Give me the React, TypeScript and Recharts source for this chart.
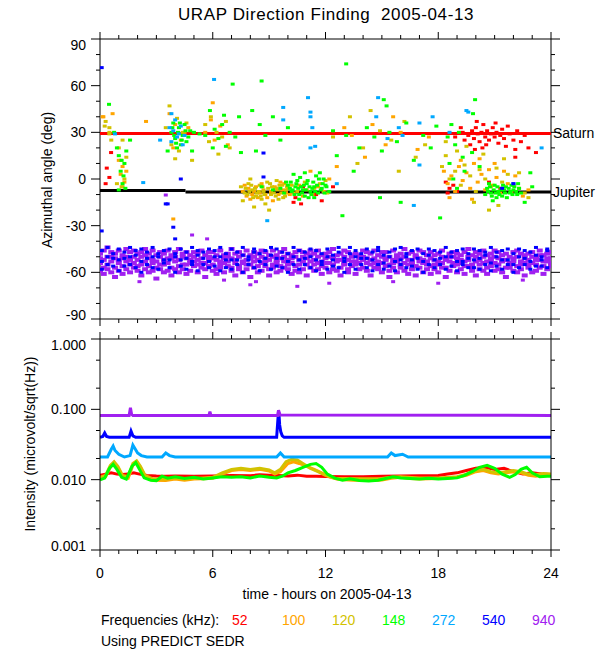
import React from "react";
import {
  ComposedChart,
  Line,
  ReferenceLine,
  Scatter,
  ScatterChart,
  XAxis,
  YAxis,
} from "recharts";

const FONT = '"Liberation Sans", Arial, Helvetica, sans-serif';

// axis ticks
const HOUR_TICKS = [0, 1, 2, 3, 4, 5, 6, 7, 8, 9, 10, 11, 12, 13, 14, 15, 16, 17, 18, 19, 20, 21, 22, 23, 24];
const HOUR_MAJOR = [0, 6, 12, 18, 24];
const ANGLE_TICKS = [-90, -80, -70, -60, -50, -40, -30, -20, -10, 0, 10, 20, 30, 40, 50, 60, 70, 80, 90];
const ANGLE_MAJOR = [-90, -60, -30, 0, 30, 60, 90];
const INT_TICKS = [0.001, 0.002, 0.005, 0.01, 0.02, 0.05, 0.1, 0.2, 0.5, 1];
const INT_MAJOR = [0.001, 0.01, 0.1, 1];

const FREQS = ["52", "100", "120", "148", "272", "540", "940"];
const COLORS = ["#ff0000", "#ffa500", "#d2c200", "#00ff00", "#00a8ff", "#0000ff", "#a020f0"];

// planet directions (deg)
const SATURN = 29.3;
const JUPITER = -8.3;
const JUPITER_EARLY = -7.4;
const JUPITER_STEP = 4.55;

// direction-finding points: [hour, azimuth]
const S52: [number, number][] = [
  [0.59, 17], [0.36, 7], [0.3, -3], [0.5, 1],
  [19.6, 28], [19.8, 31], [19.9, 26], [20.0, 33], [20.1, 29], [20.2, 24], [20.3, 30], [20.4, 35],
  [20.5, 27], [20.6, 31], [20.7, 25], [20.8, 29], [20.9, 33], [21.0, 27], [21.1, 30], [21.2, 23],
  [21.3, 28], [21.4, 32], [21.5, 26], [21.6, 21], [21.8, 29], [22.0, 25], [22.2, 31], [22.4, 24],
  [22.6, 28], [19.7, 22], [20.05, 37], [20.55, 22], [21.05, 36], [19.4, 25], [19.3, 30], [18.9, 27],
  [22.8, 20], [23.2, 17], [21.7, 34], [20.35, 20], [19.95, 19], [22.1, 19], [22.1, 14], [19.2, 33],
  [18.4, -2], [18.6, -6], [18.5, -9], [18.8, -4], [19.0, -8], [10.3, -15], [10.7, -16], [12.4, -5],
  [9.9, -8], [10.4, -12], [10.8, -5], [11.5, -10], [11.8, -14], [20.7, -2], [21.3, -6],
];
const S100: [number, number][] = [
  [0.14, 40], [0.67, 42], [2.45, 37], [0.18, 40], [1.2, 8], [1.1, 3], [1.3, -2], [1.0, 12], [1.15, -5], [1.4, 5],
  [3.7, 42], [4.0, 35], [4.3, 25], [4.5, 30], [3.9, 20], [4.7, 33], [3.9, -25.7],
  [5.6, 30], [6.0, 49], [6.1, 25], [6.4, 34], [6.8, 22], [5.9, 38],
  [7.6, -8], [7.9, -6], [8.1, -10], [8.3, -5], [8.5, -9], [8.7, -7], [8.9, -12], [9.1, -8], [9.3, -5],
  [9.5, -10], [9.7, -7], [9.9, -9], [8.0, -13], [8.6, -3], [9.2, -14], [9.6, -2], [7.8, -11], [8.4, -12],
  [7.7, -4], [8.2, -8], [8.8, -10], [9.4, -6], [9.8, -3], [10.1, -10],
  [10.0, -6], [10.3, -9], [10.6, -4], [11.0, -7], [11.3, -10], [11.6, -5], [11.9, -8], [10.8, -11],
  [11.2, 5], [12.2, 0], [13.4, 28], [14.5, 35], [15.2, 22], [16.0, 30], [16.9, 19], [17.5, 27],
  [13.0, 33], [15.6, 40], [12.6, 8], [14.1, 14],
  [18.3, 5], [18.5, -3], [18.7, 2], [18.9, -8], [19.1, 8], [19.3, -1], [19.5, 4], [19.7, -6], [19.9, 10],
  [20.1, -2], [20.3, 3], [20.5, -7], [20.7, 6], [20.9, -4], [21.1, 1], [21.3, -9], [21.5, 5], [21.7, -3],
  [21.9, -8], [22.1, 2], [22.3, -6], [22.5, -11], [19.2, 12], [20.2, 13], [21.0, 10], [18.6, -12],
  [19.8, -13], [22.8, -7],
];
const S120: [number, number][] = [
  [0.3, 37], [0.5, 30], [0.25, 34], [1.0, 20], [1.1, 12], [1.3, 0], [1.2, -5], [0.9, -3], [1.4, 14],
  [0.6, 25], [1.2, 25], [0.5, 33], [0.5, 29],
  [3.7, 47], [4.1, 39], [4.4, 30], [3.8, 22], [4.6, 36], [4.2, 18], [3.5, 33], [4.9, 12], [4.0, 13],
  [5.6, 35], [5.9, 40], [6.2, 30], [6.5, 27], [6.9, 20], [6.3, 16], [5.8, 24], [6.7, 37],
  [7.5, -5], [7.7, -9], [7.9, -3], [8.1, -7], [8.3, -11], [8.5, -4], [8.7, -8], [8.9, -2], [9.1, -10],
  [9.3, -6], [9.5, -13], [9.7, -4], [9.9, -7], [7.6, -14], [8.2, -18], [8.8, -16], [9.4, -1], [8.0, 0],
  [9.0, -20], [8.6, -13], [7.75, -6], [8.45, -8], [9.15, -5], [9.85, -11],
  [7.85, -10], [8.05, -4], [8.25, -6], [8.35, -9], [8.55, -11], [8.65, -5], [8.75, -10], [8.95, -6],
  [9.05, -3], [9.25, -9], [9.35, -11], [9.45, -7], [9.55, -4], [9.65, -9], [9.75, -12], [9.95, -5],
  [8.15, -12], [7.95, -8],
  [10.2, -4], [10.5, -8], [10.9, -2], [11.4, -6], [11.7, -3], [12.1, -9], [12.0, -1],
  [12.4, 27], [13.3, 40], [14.0, 20], [14.9, 31], [15.5, 25], [16.2, 37], [16.8, 14], [17.3, 22],
  [13.7, 10], [15.9, 5], [14.4, 44],
  [18.2, 8], [18.4, 15], [18.6, 0], [18.9, 5], [19.2, -4], [19.4, 9], [19.7, 2], [20.0, -8], [20.2, 6],
  [20.5, 0], [20.8, -5], [21.1, 7], [21.4, -2], [21.7, 3], [22.0, -4], [22.3, 4], [22.6, -9], [19.0, 18],
  [20.4, 16], [21.5, 13], [19.9, -15], [21.2, -17], [22.8, -12], [20.7, -20], [18.4, 24], [19.5, 21],
];
const S148: [number, number][] = [
  [0.48, 48], [1.0, 15], [1.1, 5], [1.2, -3], [1.3, 10], [1.0, -7], [1.25, 2], [1.4, 18], [0.9, 20],
  [1.15, 12], [1.35, -6], [0.75, 30], [1.6, 25],
  [3.8, 30], [4.0, 26], [4.2, 33], [4.4, 28], [4.6, 24], [4.8, 31], [4.1, 20], [4.5, 35], [3.9, 36],
  [4.3, 22], [4.7, 27], [5.0, 30], [3.6, 18], [4.9, 18],
  [3.95, 28], [4.15, 30], [4.35, 25], [4.55, 31], [4.25, 36], [4.05, 23], [3.85, 33],
  [5.6, 28], [5.85, 44], [6.1, 32], [6.3, 26], [6.5, 35], [6.7, 21], [6.9, 30], [6.0, 20], [7.2, 27],
  [7.5, 17], [5.3, 29], [6.6, 41], [7.06, 61], [8.6, 63],
  [7.4, 40], [8.1, 44], [8.5, 35], [8.8, 28], [9.2, 40], [9.6, 25], [10.0, 33], [8.3, 18],
  [9.6, -6], [9.8, -9], [10.0, -4], [10.2, -8], [10.4, -5], [10.6, -10], [10.8, -7], [11.0, -3],
  [11.2, -8], [11.4, -5], [11.6, -9], [11.8, -6], [12.0, -4], [10.5, -1], [11.1, -12], [11.9, 0],
  [12.2, -8], [9.9, -2], [10.9, -11], [11.5, 2], [8.6, -5], [9.2, -7], [10.1, -6], [10.7, -5], [11.3, -6],
  [10.15, -2], [10.25, -7], [10.35, -10], [10.45, -3], [10.55, -6], [10.65, 1], [10.75, -9], [10.85, -4],
  [10.95, -7], [11.05, -1], [11.15, -5], [11.25, -10], [11.35, -2], [11.45, -8], [11.55, -4], [11.65, 0],
  [11.75, -7], [11.85, -3], [11.95, -9], [12.05, -5], [10.3, 3], [10.9, 4], [11.4, -12], [11.7, 4], [10.6, -13],
  [12.9, -23.6], [13.1, 74], [15.25, 47], [15.1, 51], [12.4, 31], [13.1, 28], [13.8, 20], [14.2, 33],
  [14.6, 27], [15.0, 18], [15.4, 30], [15.8, 24], [16.3, 36], [16.7, 12], [17.2, 28], [17.6, 20],
  [17.9, 34], [13.5, 5], [14.9, -12], [16.0, -15], [12.6, 15],
  [18.1, -25], [19.96, 51], [19.85, 42], [18.5, 27], [18.7, 35], [18.9, 22], [19.1, 30], [19.3, 14],
  [18.6, 10], [18.8, 0], [19.0, -6], [20.6, -6], [20.8, -9], [21.0, -4], [21.2, -8], [21.4, -11],
  [21.6, -5], [21.8, -9], [22.0, -7], [22.2, -10], [20.7, -3], [21.1, -12], [21.5, -7], [21.9, -4],
  [22.3, -6], [20.9, -14], [22.6, -15], [23.0, -5], [22.9, 4], [19.4, 5], [19.8, 17], [20.2, 8],
  [20.65, -8], [20.75, -5], [20.85, -11], [20.95, -7], [21.05, -9], [21.15, -5], [21.25, -10], [21.35, -7],
  [21.45, -4], [21.55, -9], [21.65, -12], [21.75, -6], [21.85, -8], [21.95, -10], [22.05, -5], [22.15, -8],
  [22.25, -3], [20.5, -10], [22.4, -9],
];
const S272: [number, number][] = [
  [2.3, -2.3], [8.9, -26.8], [11.07, 52.3], [14.8, 52.3], [19.5, 44], [23.5, 20], [16.7, -17],
  [3.9, 31], [4.1, 27], [4.3, 34], [3.8, 24], [4.0, 38], [4.2, 29], [4.4, 22], [3.7, 33], [4.5, 28],
  [3.2, 25], [3.8, 42], [0.8, 29], [6.07, 64], [9.75, 46], [9.75, 38], [11.2, 43], [11.2, 40],
  [11.3, 33], [11.45, 21], [11.2, 20], [14.7, 40], [15.9, 33], [17.0, 36], [17.7, 40], [16.1, 28],
  [15.3, 26], [17.0, 9], [18.6, 30], [22.0, -3], [12.6, -3], [19.6, 43],
];
const S540: [number, number][] = [
  [0.09, 71.6], [0.09, -33.4], [3.5, -16], [3.9, -31], [4.0, -38.5], [4.3, 0], [8.7, 16.7],
  [8.7, 1.3], [10.9, -79], [22.0, -3], [21.4, -6], [3.6, -16],
];
const S940: [number, number][] = [
  [3.5, -10.3], [5.7, -38.5], [8.0, -68], [8.3, -66], [12.2, -67], [15.6, -66], [22.5, -65],
  [4.9, -36], [10.5, -69], [18.0, -67], [2.1, -66], [6.6, -65],
];

// the dense 540/940 kHz band: [hour, azimuths...]
const BAND940: number[][] = [
  [0.0, -48, -54, -59, -51], [0.2, -52, -46, -57, -61], [0.4, -50, -55, -44, -58], [0.6, -47, -53, -60, -50],
  [0.8, -51, -57, -48, -63], [1.0, -54, -46, -59, -52], [1.2, -49, -56, -51, -61], [1.4, -53, -45, -58, -50],
  [1.6, -47, -55, -60, -52], [1.8, -50, -57, -46, -54], [2.0, -52, -48, -59, -56], [2.2, -55, -47, -62, -50],
  [2.4, -49, -53, -58, -45], [2.6, -51, -56, -48, -60], [2.8, -46, -54, -52, -59], [3.0, -53, -49, -57, -64],
  [3.2, -50, -55, -47, -58], [3.4, -48, -52, -60, -55], [3.6, -54, -46, -51, -59], [3.8, -51, -57, -49, -62],
  [4.0, -47, -53, -58, -50], [4.2, -52, -56, -45, -60], [4.4, -50, -48, -55, -58], [4.6, -55, -51, -47, -61],
  [4.8, -49, -54, -59, -52], [5.0, -53, -47, -56, -50], [5.2, -48, -55, -60, -52], [5.4, -51, -57, -46, -54],
  [5.6, -54, -49, -58, -63], [5.8, -50, -52, -47, -56], [6.0, -47, -55, -59, -51], [6.2, -52, -58, -49, -61],
  [6.4, -55, -46, -53, -57], [6.6, -49, -51, -60, -54], [6.8, -53, -48, -56, -50], [7.0, -51, -57, -45, -59],
  [7.2, -48, -54, -62, -52], [7.4, -50, -56, -47, -58], [7.6, -54, -49, -53, -60], [7.8, -52, -46, -58, -55],
  [8.0, -49, -55, -51, -63], [8.2, -53, -47, -57, -50], [8.4, -56, -52, -48, -60], [8.6, -50, -54, -59, -46],
  [8.8, -47, -53, -56, -51], [9.0, -52, -58, -49, -62], [9.2, -55, -50, -46, -57], [9.4, -49, -54, -60, -52],
  [9.6, -51, -47, -56, -59], [9.8, -53, -57, -50, -45], [10.0, -48, -52, -58, -55], [10.2, -54, -49, -61, -51],
  [10.4, -50, -56, -47, -59], [10.6, -52, -46, -55, -60], [10.8, -47, -53, -58, -50], [11.0, -55, -51, -48, -62],
  [11.2, -49, -57, -53, -46], [11.4, -52, -48, -59, -55], [11.6, -50, -54, -46, -58], [11.8, -53, -56, -49, -61],
  [12.0, -48, -51, -57, -54], [12.2, -54, -47, -60, -50], [12.4, -51, -55, -45, -58], [12.6, -49, -53, -59, -52],
  [12.8, -52, -57, -48, -62], [13.0, -55, -50, -54, -46], [13.2, -47, -52, -58, -60], [13.4, -50, -56, -49, -53],
  [13.6, -53, -48, -61, -55], [13.8, -49, -54, -51, -58], [14.0, -52, -46, -57, -50], [14.2, -54, -51, -59, -47],
  [14.4, -48, -55, -52, -62], [14.6, -51, -57, -46, -54], [14.8, -53, -49, -58, -56], [15.0, -50, -54, -47, -60],
  [15.2, -47, -52, -56, -51], [15.4, -55, -50, -59, -63], [15.6, -52, -46, -54, -57], [15.8, -49, -53, -60, -51],
  [16.0, -51, -57, -48, -55], [16.2, -54, -50, -45, -59], [16.4, -48, -55, -52, -61], [16.6, -52, -47, -58, -54],
  [16.8, -50, -56, -49, -62], [17.0, -53, -51, -57, -46], [17.2, -47, -54, -60, -52], [17.4, -55, -49, -53, -58],
  [17.6, -51, -56, -47, -61], [17.8, -49, -52, -58, -55], [18.0, -53, -48, -55, -60], [18.2, -50, -54, -46, -57],
  [18.4, -52, -57, -51, -63], [18.6, -48, -53, -59, -50], [18.8, -54, -50, -56, -47], [19.0, -51, -55, -48, -60],
  [19.2, -49, -52, -58, -54], [19.4, -53, -47, -61, -56], [19.6, -50, -56, -52, -45], [19.8, -55, -49, -57, -59],
  [20.0, -47, -53, -50, -62], [20.2, -52, -58, -55, -48], [20.4, -50, -46, -54, -59], [20.6, -53, -57, -49, -61],
  [20.8, -48, -51, -56, -53], [21.0, -54, -50, -59, -46], [21.2, -51, -55, -47, -58], [21.4, -49, -53, -60, -52],
  [21.6, -52, -57, -48, -63], [21.8, -55, -50, -54, -57], [22.0, -47, -53, -59, -51], [22.2, -50, -56, -46, -60],
  [22.4, -53, -48, -55, -58], [22.6, -51, -54, -49, -62], [22.8, -48, -52, -57, -55], [23.0, -54, -47, -60, -50],
  [23.2, -50, -55, -52, -59], [23.4, -52, -49, -46, -57], [23.6, -49, -56, -53, -61], [23.8, -53, -51, -58, -48],
  [24.0, -51, -54, -47, -56],
];
const BAND540: number[][] = [
  [0.1, -46, -53, -58], [0.4, -50, -44, -55], [0.7, -48, -56, -51], [1.0, -45, -52, -59], [1.3, -51, -47, -56],
  [1.6, -44, -55, -50], [1.9, -49, -46, -57], [2.2, -53, -45, -60], [2.5, -47, -51, -55], [2.8, -44, -57, -50],
  [3.1, -50, -48, -58], [3.4, -46, -54, -52], [3.7, -52, -45, -57], [4.0, -48, -50, -60], [4.3, -45, -56, -52],
  [4.6, -51, -47, -58], [4.9, -44, -53, -55], [5.2, -49, -46, -59], [5.5, -47, -55, -51], [5.8, -53, -45, -57],
  [6.1, -46, -50, -56], [6.4, -50, -44, -59], [6.7, -48, -57, -52], [7.0, -45, -52, -58], [7.3, -52, -47, -55],
  [7.6, -44, -49, -60], [7.9, -50, -55, -52], [8.2, -47, -45, -57], [8.5, -53, -48, -59], [8.8, -46, -51, -55],
  [9.1, -49, -44, -58], [9.4, -45, -56, -51], [9.7, -51, -47, -57], [10.0, -48, -53, -60], [10.3, -44, -50, -55],
  [10.6, -52, -46, -58], [10.9, -47, -55, -51], [11.2, -50, -45, -57], [11.5, -46, -52, -59], [11.8, -53, -48, -55],
  [12.1, -45, -50, -58], [12.4, -49, -56, -52], [12.7, -47, -44, -57], [13.0, -51, -53, -60], [13.3, -44, -48, -55],
  [13.6, -50, -46, -58], [13.9, -48, -55, -51], [14.2, -45, -51, -57], [14.5, -52, -47, -59], [14.8, -46, -44, -55],
  [15.1, -49, -54, -58], [15.4, -47, -50, -56], [15.7, -53, -45, -59], [16.0, -44, -52, -55], [16.3, -50, -48, -57],
  [16.6, -46, -56, -52], [16.9, -51, -45, -58], [17.2, -48, -53, -60], [17.5, -45, -49, -55], [17.8, -52, -46, -57],
  [18.1, -47, -55, -51], [18.4, -44, -50, -58], [18.7, -50, -47, -56], [19.0, -46, -53, -59], [19.3, -53, -45, -55],
  [19.6, -48, -51, -57], [19.9, -45, -57, -52], [20.2, -51, -46, -58], [20.5, -47, -49, -55], [20.8, -44, -54, -59],
  [21.1, -50, -47, -56], [21.4, -46, -52, -58], [21.7, -52, -45, -55], [22.0, -48, -55, -60], [22.3, -45, -50, -57],
  [22.6, -51, -46, -55], [22.9, -47, -53, -58], [23.2, -44, -49, -56], [23.5, -50, -56, -52], [23.8, -46, -45, -57],
];

// intensity traces: [hour, microvolt/sqrt(Hz)]
const L52: [number, number][] = [
  [0, 0.0115], [0.3, 0.012], [0.6, 0.0125], [0.9, 0.012], [1.2, 0.0118], [1.5, 0.012], [1.8, 0.0125],
  [2.1, 0.012], [2.5, 0.0115], [3, 0.0113], [3.5, 0.0112], [4, 0.0113], [5, 0.0112], [6, 0.0113],
  [7, 0.0115], [8, 0.0114], [8.5, 0.0117], [9, 0.0116], [9.5, 0.0115], [10, 0.0113], [10.5, 0.0116],
  [11, 0.0112], [11.5, 0.0112], [12, 0.0111], [13, 0.011], [14, 0.011], [15, 0.0112], [16, 0.0113],
  [17, 0.0114], [18, 0.0115], [18.5, 0.012], [19, 0.0125], [19.5, 0.0135], [20, 0.0145], [20.5, 0.015],
  [21, 0.014], [21.5, 0.0145], [22, 0.013], [22.5, 0.012], [23, 0.0125], [23.5, 0.012], [24, 0.0118],
];
const L100: [number, number][] = [
  [0, 0.0105], [0.3, 0.011], [0.55, 0.015], [0.75, 0.0175], [0.95, 0.015], [1.2, 0.011], [1.5, 0.0105],
  [1.75, 0.016], [1.95, 0.018], [2.15, 0.015], [2.4, 0.011], [2.8, 0.0098], [3.5, 0.0097], [4, 0.0102],
  [4.5, 0.0098], [5, 0.0102], [5.5, 0.0103], [6, 0.0105], [6.5, 0.012], [7, 0.0135], [7.5, 0.014],
  [8, 0.0135], [8.5, 0.014], [9, 0.0133], [9.3, 0.012], [9.6, 0.013], [10, 0.017], [10.3, 0.018],
  [10.6, 0.017], [11, 0.0155], [11.4, 0.014], [11.8, 0.0125], [12.2, 0.011], [12.6, 0.0102], [13, 0.01],
  [13.5, 0.0098], [14, 0.0099], [14.5, 0.0097], [15, 0.0099], [15.5, 0.0105], [16, 0.0108], [16.5, 0.0104],
  [17, 0.0102], [17.5, 0.0103], [18, 0.0104], [18.5, 0.0105], [19, 0.0108], [19.5, 0.0115], [20, 0.013],
  [20.4, 0.0135], [20.8, 0.0125], [21.2, 0.012], [21.6, 0.0125], [22, 0.013], [22.4, 0.0125], [22.8, 0.0115],
  [23.2, 0.0112], [23.6, 0.0118], [24, 0.0115],
];
const L120: [number, number][] = [
  [0, 0.0108], [0.3, 0.0115], [0.55, 0.016], [0.75, 0.018], [0.95, 0.0155], [1.2, 0.0115], [1.5, 0.011],
  [1.75, 0.017], [1.95, 0.0185], [2.15, 0.0155], [2.4, 0.0115], [2.8, 0.0103], [3.5, 0.0102], [4, 0.0106],
  [4.5, 0.0102], [5, 0.0104], [5.5, 0.0106], [6, 0.0108], [6.5, 0.0125], [7, 0.014], [7.5, 0.0145],
  [8, 0.014], [8.5, 0.0145], [9, 0.0138], [9.3, 0.0125], [9.6, 0.014], [9.9, 0.018], [10.2, 0.0195],
  [10.5, 0.019], [10.8, 0.017], [11.2, 0.0145], [11.6, 0.013], [12, 0.0115], [12.5, 0.0105], [13, 0.0104],
  [14, 0.0103], [15, 0.0104], [15.5, 0.0108], [16, 0.011], [17, 0.0106], [18, 0.0106], [19, 0.011],
  [19.5, 0.012], [20, 0.0135], [20.4, 0.014], [20.8, 0.013], [21.2, 0.0125], [21.6, 0.013], [22, 0.0135],
  [22.4, 0.013], [22.8, 0.012], [23.2, 0.0118], [23.6, 0.0122], [24, 0.012],
];
const L148: [number, number][] = [
  [0, 0.0099], [0.25, 0.0105], [0.5, 0.0145], [0.7, 0.0165], [0.9, 0.014], [1.15, 0.0108], [1.4, 0.0102],
  [1.7, 0.0155], [1.9, 0.0175], [2.1, 0.014], [2.35, 0.0106], [2.7, 0.0098], [3, 0.0097], [3.3, 0.0112],
  [3.6, 0.0105], [4, 0.011], [4.5, 0.0104], [5, 0.0108], [5.5, 0.0102], [6, 0.0106], [6.5, 0.011],
  [7, 0.0108], [7.5, 0.011], [8, 0.0106], [8.5, 0.0113], [9, 0.0108], [9.4, 0.0106], [9.7, 0.0112],
  [10, 0.0125], [10.4, 0.0135], [10.8, 0.015], [11.2, 0.0165], [11.5, 0.017], [11.8, 0.015], [12.1, 0.012],
  [12.5, 0.0105], [12.9, 0.0098], [13.3, 0.0103], [13.8, 0.0097], [14.3, 0.0096], [14.8, 0.0098],
  [15.2, 0.0104], [15.6, 0.011], [16, 0.0106], [16.5, 0.0104], [17, 0.0102], [17.5, 0.0105], [18, 0.0102],
  [18.5, 0.0104], [19, 0.0106], [19.4, 0.0115], [19.8, 0.013], [20.2, 0.015], [20.6, 0.016], [21, 0.0145],
  [21.4, 0.012], [21.8, 0.0108], [22.1, 0.0118], [22.4, 0.014], [22.7, 0.015], [23, 0.0125], [23.4, 0.011],
  [23.8, 0.0112], [24, 0.0112],
];
const L272: [number, number][] = [
  [0, 0.021], [0.4, 0.021], [0.6, 0.027], [0.7, 0.03], [0.8, 0.026], [1.0, 0.023], [1.3, 0.021],
  [1.6, 0.022], [1.75, 0.031], [1.85, 0.028], [2.0, 0.024], [2.2, 0.022], [2.5, 0.021], [3.3, 0.021],
  [3.5, 0.024], [3.7, 0.022], [4, 0.021], [9.4, 0.021], [9.6, 0.024], [9.8, 0.021], [15.3, 0.021],
  [15.5, 0.024], [15.7, 0.022], [16.1, 0.023], [16.4, 0.021], [24, 0.021],
];
const L540: [number, number][] = [
  [0, 0.04], [0.15, 0.041], [0.25, 0.046], [0.35, 0.041], [0.5, 0.04], [1.55, 0.04], [1.65, 0.049],
  [1.75, 0.042], [1.9, 0.04], [9.4, 0.04], [9.48, 0.08], [9.52, 0.09], [9.56, 0.06], [9.62, 0.048],
  [9.7, 0.042], [9.8, 0.04], [24, 0.04],
];
const L940: [number, number][] = [
  [0, 0.082], [1.55, 0.082], [1.62, 0.105], [1.68, 0.085], [1.75, 0.082], [5.8, 0.082], [5.85, 0.093],
  [5.9, 0.082], [9.45, 0.082], [9.5, 0.097], [9.58, 0.083], [24, 0.082],
];

const SCATTER_SETS = [S52, S100, S120, S148, S272, S540, S940];
const LINE_SETS = [L52, L100, L120, L148, L272, L540, L940];

const toAz = (arr: [number, number][]) => arr.map(([h, a]) => ({ h, a }));
const bandToAz = (rows: number[][]) =>
  rows.flatMap(([h, ...as]) => as.map((a) => ({ h, a })));
const toInt = (arr: [number, number][]) => arr.map(([h, v]) => ({ h, v }));

const dash = (color: string, w: number, hgt: number) => (p: any) => (
  <rect x={p.cx - w / 2} y={p.cy - hgt / 2} width={w} height={hgt} fill={color} />
);
const noMark = () => <g />;

type TickOpts = {
  side: "left" | "right" | "top" | "bottom";
  majors: number[];
  majorLen: number;
  minorLen: number;
  fmt?: (v: number) => string;
  min?: number;
  max?: number;
};

const makeTick = (o: TickOpts) => (p: any) => {
  const { x, y } = p;
  const v = p.payload.value;
  const major = o.majors.includes(v);
  const len = major ? o.majorLen : o.minorLen;
  let line;
  if (o.side === "left") line = <line x1={x} y1={y} x2={x - len} y2={y} stroke="#000" />;
  else if (o.side === "right") line = <line x1={x} y1={y} x2={x + len} y2={y} stroke="#000" />;
  else if (o.side === "top") line = <line x1={x} y1={y} x2={x} y2={y - len} stroke="#000" />;
  else line = <line x1={x} y1={y} x2={x} y2={y + len} stroke="#000" />;
  let label = null;
  if (major && o.fmt) {
    if (o.side === "left") {
      const dy = v === o.max ? 11 : v === o.min ? 1 : 5;
      label = (
        <text x={x - 14} y={y + dy} textAnchor="end" fontSize={14} fontFamily={FONT} fill="#000">
          {o.fmt(v)}
        </text>
      );
    } else if (o.side === "bottom") {
      label = (
        <text x={x} y={y + 28} textAnchor="middle" fontSize={14} fontFamily={FONT} fill="#000">
          {o.fmt(v)}
        </text>
      );
    }
  }
  return (
    <g>
      {line}
      {label}
    </g>
  );
};

const Txt = ({ x, y, children, color = "#000", anchor = "start", size = 14, spacing = 0 }: any) => (
  <div
    style={{
      position: "absolute",
      left: x,
      top: y,
      transform: `translate(${anchor === "middle" ? "-50%" : "0"}, -50%)`,
      fontSize: size,
      lineHeight: "16px",
      letterSpacing: spacing,
      color,
      whiteSpace: "pre",
      fontFamily: FONT,
    }}
  >
    {children}
  </div>
);

const RotTxt = ({ cx, cy, children }: any) => (
  <div
    style={{
      position: "absolute",
      left: cx,
      top: cy,
      transform: "translate(-50%, -50%) rotate(-90deg)",
      fontSize: 14,
      lineHeight: "16px",
      whiteSpace: "pre",
      fontFamily: FONT,
      color: "#000",
    }}
  >
    {children}
  </div>
);

const axisLine = { stroke: "#000", strokeWidth: 1 };
const MARGIN = { left: 80, right: 40 };

function DirectionPanel() {
  return (
    <ScatterChart width={600} height={335} margin={{ top: 30, bottom: 10, ...MARGIN }}>
      <XAxis
        xAxisId="b"
        type="number"
        dataKey="h"
        domain={[0, 24]}
        allowDataOverflow
        ticks={HOUR_TICKS}
        interval={0}
        height={6}
        tickSize={0}
        tickMargin={0}
        axisLine={axisLine}
        tickLine={false}
        tick={makeTick({ side: "bottom", majors: HOUR_MAJOR, majorLen: 7, minorLen: 4 })}
      />
      <XAxis
        xAxisId="t"
        orientation="top"
        type="number"
        dataKey="h"
        domain={[0, 24]}
        allowDataOverflow
        ticks={HOUR_TICKS}
        interval={0}
        height={9}
        tickSize={0}
        tickMargin={0}
        axisLine={axisLine}
        tickLine={false}
        tick={makeTick({ side: "top", majors: HOUR_MAJOR, majorLen: 7, minorLen: 4 })}
      />
      <YAxis
        yAxisId="l"
        type="number"
        dataKey="a"
        domain={[-90, 90]}
        allowDataOverflow
        ticks={ANGLE_TICKS}
        interval={0}
        width={20}
        tickSize={0}
        tickMargin={0}
        axisLine={axisLine}
        tickLine={false}
        tick={makeTick({
          side: "left",
          majors: ANGLE_MAJOR,
          majorLen: 9,
          minorLen: 4,
          fmt: (v) => String(v),
          min: -90,
          max: 90,
        })}
      />
      <YAxis
        yAxisId="r"
        orientation="right"
        type="number"
        dataKey="a"
        domain={[-90, 90]}
        allowDataOverflow
        ticks={ANGLE_TICKS}
        interval={0}
        width={9}
        tickSize={0}
        tickMargin={0}
        axisLine={axisLine}
        tickLine={false}
        tick={makeTick({ side: "right", majors: ANGLE_MAJOR, majorLen: 9, minorLen: 4 })}
      />
      {/* planet directions drawn first so the measurements sit on top */}
      <Scatter
        xAxisId="b"
        yAxisId="l"
        data={[{ h: 0, a: SATURN }, { h: 24, a: SATURN }]}
        line={{ stroke: "#ff0000", strokeWidth: 3 }}
        shape={noMark}
        isAnimationActive={false}
      />
      <Scatter
        xAxisId="b"
        yAxisId="l"
        data={[{ h: 0, a: JUPITER_EARLY }, { h: JUPITER_STEP, a: JUPITER_EARLY }]}
        line={{ stroke: "#000", strokeWidth: 3 }}
        shape={noMark}
        isAnimationActive={false}
      />
      <Scatter
        xAxisId="b"
        yAxisId="l"
        data={[{ h: JUPITER_STEP, a: JUPITER }, { h: 24, a: JUPITER }]}
        line={{ stroke: "#000", strokeWidth: 3 }}
        shape={noMark}
        isAnimationActive={false}
      />
      <Scatter
        xAxisId="b"
        yAxisId="l"
        data={bandToAz(BAND940)}
        shape={dash(COLORS[6], 6, 4)}
        isAnimationActive={false}
      />
      <Scatter
        xAxisId="b"
        yAxisId="l"
        data={bandToAz(BAND540)}
        shape={dash(COLORS[5], 4, 3)}
        isAnimationActive={false}
      />
      {SCATTER_SETS.map((s, i) => (
        <Scatter
          key={FREQS[i]}
          xAxisId="b"
          yAxisId="l"
          data={toAz(s)}
          shape={dash(COLORS[i], 4, 3)}
          isAnimationActive={false}
        />
      ))}
      <ReferenceLine
        xAxisId="b"
        yAxisId="l"
        y={SATURN}
        stroke="none"
        label={{ value: "Saturn", position: "right", offset: 2, fill: "#000", fontSize: 14, fontFamily: FONT }}
      />
      <ReferenceLine
        xAxisId="b"
        yAxisId="l"
        y={JUPITER}
        stroke="none"
        label={{ value: "Jupiter", position: "right", offset: 2, fill: "#000", fontSize: 14, fontFamily: FONT }}
      />
    </ScatterChart>
  );
}

function IntensityPanel() {
  return (
    <ComposedChart width={600} height={300} margin={{ top: 30, bottom: 40, ...MARGIN }}>
      <XAxis
        xAxisId="b"
        type="number"
        dataKey="h"
        domain={[0, 24]}
        allowDataOverflow
        ticks={HOUR_TICKS}
        interval={0}
        height={10}
        tickSize={0}
        tickMargin={0}
        axisLine={axisLine}
        tickLine={false}
        tick={makeTick({ side: "bottom", majors: HOUR_MAJOR, majorLen: 7, minorLen: 4, fmt: (v) => String(v) })}
      />
      <XAxis
        xAxisId="t"
        orientation="top"
        type="number"
        dataKey="h"
        domain={[0, 24]}
        allowDataOverflow
        ticks={HOUR_TICKS}
        interval={0}
        height={9}
        tickSize={0}
        tickMargin={0}
        axisLine={axisLine}
        tickLine={false}
        tick={makeTick({ side: "top", majors: HOUR_MAJOR, majorLen: 7, minorLen: 4 })}
      />
      <YAxis
        yAxisId="l"
        type="number"
        scale="log"
        dataKey="v"
        domain={[0.001, 1]}
        allowDataOverflow
        ticks={INT_TICKS}
        interval={0}
        width={20}
        tickSize={0}
        tickMargin={0}
        axisLine={axisLine}
        tickLine={false}
        tick={makeTick({
          side: "left",
          majors: INT_MAJOR,
          majorLen: 9,
          minorLen: 4,
          fmt: (v) => v.toFixed(3),
          min: 0.001,
          max: 1,
        })}
      />
      <YAxis
        yAxisId="r"
        orientation="right"
        type="number"
        scale="log"
        dataKey="v"
        domain={[0.001, 1]}
        allowDataOverflow
        ticks={INT_TICKS}
        interval={0}
        width={9}
        tickSize={0}
        tickMargin={0}
        axisLine={axisLine}
        tickLine={false}
        tick={makeTick({ side: "right", majors: INT_MAJOR, majorLen: 9, minorLen: 4 })}
      />
      {LINE_SETS.map((s, i) => (
        <Line
          key={FREQS[i]}
          xAxisId="b"
          yAxisId="l"
          data={toInt(s)}
          dataKey="v"
          type="linear"
          stroke={COLORS[i]}
          strokeWidth={3}
          dot={false}
          isAnimationActive={false}
        />
      ))}
    </ComposedChart>
  );
}

export default function App() {
  return (
    <div
      style={{
        position: "absolute",
        left: 0,
        top: 0,
        width: 600,
        height: 650,
        background: "#fff",
        overflow: "hidden",
        fontFamily: FONT,
      }}
    >
      <div style={{ position: "absolute", left: 0, top: 0 }}>
        <DirectionPanel />
      </div>
      <div style={{ position: "absolute", left: 0, top: 300 }}>
        <IntensityPanel />
      </div>
      <Txt x={326} y={15} anchor="middle" size={17} spacing={0.6}>
        URAP Direction Finding  2005-04-13
      </Txt>
      <RotTxt cx={47} cy={180}>Azimuthal angle (deg)</RotTxt>
      <RotTxt cx={30} cy={444}>Intensity (microvolt/sqrt(Hz))</RotTxt>
      <Txt x={327} y={594} anchor="middle">
        time - hours on 2005-04-13
      </Txt>
      <Txt x={101} y={620}>Frequencies (kHz):</Txt>
      {FREQS.map((f, i) => (
        <Txt key={f} x={232 + i * 50} y={620} color={COLORS[i]}>
          {f}
        </Txt>
      ))}
      <Txt x={101} y={641}>Using PREDICT SEDR</Txt>
    </div>
  );
}
